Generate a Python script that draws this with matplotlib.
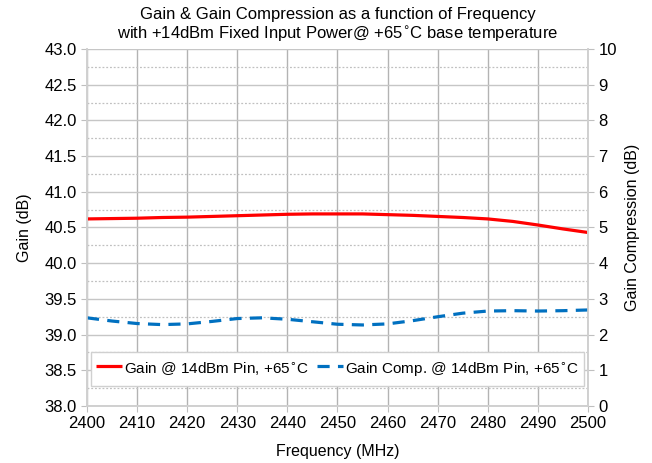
import numpy as np
import matplotlib
matplotlib.use("Agg")
from matplotlib import pyplot as plt
from matplotlib.ticker import MultipleLocator

plt.rcParams['font.family'] = ['Liberation Sans', 'DejaVu Sans']

freq = [2400, 2405, 2410, 2415, 2420, 2425, 2430, 2435, 2440, 2445, 2450,
        2455, 2460, 2465, 2470, 2475, 2480, 2485, 2490, 2495, 2500]
gain = [40.62, 40.625, 40.63, 40.64, 40.645, 40.655, 40.665, 40.675, 40.685, 40.69, 40.69,
        40.69, 40.68, 40.67, 40.655, 40.64, 40.62, 40.585, 40.535, 40.48, 40.43]
gain_comp = [2.47, 2.38, 2.31, 2.28, 2.30, 2.37, 2.45, 2.47, 2.43, 2.36, 2.29,
             2.27, 2.30, 2.39, 2.50, 2.60, 2.66, 2.67, 2.66, 2.67, 2.69]

fig = plt.figure(figsize=(6.52, 4.63), dpi=100)
ax = fig.add_axes([0.1334, 0.1231, 0.7684, 0.7711])
ax2 = ax.twinx()

ax.set_xlim(2400, 2500)
ax.set_ylim(38.0, 43.0)
ax2.set_ylim(0, 10)
ax.xaxis.set_major_locator(MultipleLocator(10))
ax.yaxis.set_major_locator(MultipleLocator(0.5))
ax.yaxis.set_minor_locator(MultipleLocator(0.25))
ax2.yaxis.set_major_locator(MultipleLocator(1))
ax.set_yticklabels([f"{v:.1f}" for v in ax.get_yticks()])

ax.grid(axis='x', which='major', color='#b3b3b3', lw=1.0)
ax.grid(axis='y', which='major', color='#c6c6c6', lw=1.0)
ax.grid(axis='y', which='minor', color='#c0c0c0', lw=0.9, ls=(0, (1.5, 1.5)))
ax.set_axisbelow(True)

for a in (ax, ax2):
    for s in a.spines.values():
        s.set_color('#d0d0d0')
        s.set_linewidth(1.2)
    a.tick_params(which='major', length=4, color='#bfbfbf', labelsize=12, labelcolor='#000000')
    a.tick_params(which='minor', length=0)
ax.spines['top'].set_visible(False)
ax2.spines['top'].set_visible(False)

l1, = ax.plot(freq, gain, color='#ff0000', lw=2.3, solid_capstyle='butt',
              label='Gain @ 14dBm Pin, +65$^{\\circ}$C')
l2, = ax2.plot(freq, gain_comp, color='#0070c0', lw=2.3, ls=(0, (3.8, 2.6)),
               label='Gain Comp. @ 14dBm Pin, +65$^{\\circ}$C')

ax.set_xlabel('Frequency (MHz)', fontsize=11.5, labelpad=9)
ax.set_ylabel('Gain (dB)', fontsize=11.5, labelpad=9)
ax2.set_ylabel('Gain Compression (dB)', fontsize=11.5, labelpad=6)

ax.set_title('Gain & Gain Compression as a function of Frequency\n'
             'with +14dBm Fixed Input Power@ +65$^{\\circ}$C base temperature',
             fontsize=12, pad=7, linespacing=1.15)

leg = ax2.legend(handles=[l1, l2], loc='lower center', bbox_to_anchor=(0.5, 0.055),
                 ncol=2, fontsize=11, frameon=True, fancybox=False,
                 handlelength=1.7, handleheight=2.0, handletextpad=0.15, columnspacing=0.5,
                 borderpad=0.35, borderaxespad=0.0, framealpha=1)
leg.get_frame().set_edgecolor('#d0d0d0')
leg.get_frame().set_linewidth(1.0)

fig.savefig('out.png', dpi=100)
